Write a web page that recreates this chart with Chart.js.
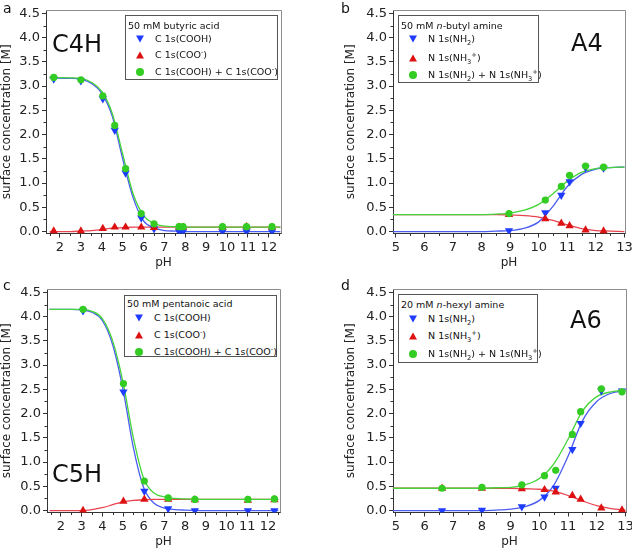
<!DOCTYPE html>
<html>
<head>
<meta charset="utf-8">
<script src="https://cdn.jsdelivr.net/npm/chart.js@4/dist/chart.umd.min.js"></script>
<style>
  body { margin:0; width:632px; height:550px; overflow:hidden; background:#fff; position:relative; font-family:"DejaVu Sans", sans-serif; color:#111; }
  canvas { position:absolute; }
  .lbl { position:absolute; line-height:1; white-space:nowrap; }
  .letter { font-size:14px; }
  .big { font-size:24px; }
  .legend { position:absolute; border:1px solid #555; background:#fff; box-sizing:border-box; font-size:9.5px; }
  .legend .row { position:absolute; white-space:nowrap; line-height:10px; transform:translateY(-50%); }
  .legend sub, .legend sup { font-size:0.7em; line-height:0; }
  .mk { position:absolute; transform:translate(-50%,-50%); }
  .down { width:0; height:0; border-left:4.5px solid transparent; border-right:4.5px solid transparent; border-top:7px solid #1e3cff; }
  .up { width:0; height:0; border-left:4.5px solid transparent; border-right:4.5px solid transparent; border-bottom:7px solid #dd1111; }
  .dot { width:8px; height:8px; border-radius:50%; background:#33cc22; }
</style>
</head>
<body>
<canvas id="pa" width="316" height="271" style="left:0;top:0"></canvas>
<canvas id="pb" width="320" height="271" style="left:316px;top:0"></canvas>
<canvas id="pc" width="316" height="271" style="left:0;top:279px"></canvas>
<canvas id="pd" width="320" height="271" style="left:316px;top:279px"></canvas>

<div class="lbl letter" style="left:3px;top:1px">a</div>
<div class="lbl letter" style="left:341px;top:1px">b</div>
<div class="lbl letter" style="left:3px;top:278px">c</div>
<div class="lbl letter" style="left:341px;top:278px">d</div>
<div class="lbl big" style="left:52px;top:32px">C4H</div>
<div class="lbl big" style="left:571px;top:31px">A4</div>
<div class="lbl big" style="left:52px;top:462px">C5H</div>
<div class="lbl big" style="left:570px;top:308px">A6</div>

<script>
// ---- data ----
// a: 50 mM butyric acid
const phA = [1.7, 3.0, 4.05, 4.62, 5.14, 5.89, 6.5, 7.7, 7.89, 9.78, 10.93, 12.15];
const coohA = [3.15, 3.11, 2.74, 2.09, 1.21, 0.28, 0.06, 0.0, 0.0, 0.0, 0.0, 0.0];
const cooA = [0.01, 0.01, 0.06, 0.09, 0.09, 0.09, 0.08, 0.09, 0.09, 0.09, 0.10, 0.09];
const sumA = [3.18, 3.13, 2.80, 2.19, 1.30, 0.37, 0.16, 0.10, 0.10, 0.10, 0.10, 0.10];
const fitPhA = [1.5, 2.5, 3.0, 3.5, 4.0, 4.5, 5.0, 5.5, 6.0, 6.5, 7.0, 7.5, 8.0, 9.0, 12.55];
const fitCoohA = [3.17, 3.16, 3.14, 3.06, 2.85, 2.38, 1.50, 0.70, 0.22, 0.08, 0.02, 0.01, 0.0, 0.0, 0.0];
const fitCooA = [0.0, 0.0, 0.01, 0.02, 0.04, 0.07, 0.08, 0.09, 0.09, 0.09, 0.09, 0.09, 0.09, 0.09, 0.09];
const fitSumA = [3.18, 3.17, 3.16, 3.08, 2.89, 2.44, 1.60, 0.78, 0.33, 0.17, 0.11, 0.10, 0.09, 0.09, 0.09];

// b: 50 mM n-butyl amine
const phB = [8.96, 10.23, 10.79, 11.08, 11.64, 12.27];
const nh2B = [0.02, 0.39, 0.75, 1.03, 1.32, 1.31];
const nh3B = [0.35, 0.26, 0.17, 0.12, 0.03, 0.01];
const sumB = [0.37, 0.65, 0.93, 1.16, 1.35, 1.33];
const fitPhB = [4.9, 7.0, 8.0, 8.5, 9.0, 9.5, 10.0, 10.5, 11.0, 11.5, 12.0, 12.5, 13.0];
const fitNh2B = [0.0, 0.0, 0.0, 0.01, 0.02, 0.07, 0.20, 0.52, 0.93, 1.18, 1.29, 1.32, 1.33];
const fitNh3B = [0.35, 0.35, 0.35, 0.35, 0.34, 0.33, 0.30, 0.23, 0.14, 0.06, 0.02, 0.01, 0.0];
const fitSumB = [0.35, 0.35, 0.35, 0.36, 0.38, 0.44, 0.56, 0.78, 1.04, 1.22, 1.30, 1.32, 1.33];

// c: 50 mM pentanoic acid
const phC = [3.07, 5.02, 6.03, 7.18, 8.47, 11.03, 12.31];
const coohC = [4.12, 2.45, 0.40, 0.04, 0.0, 0.0, 0.0];
const cooC = [0.0, 0.19, 0.23, 0.23, 0.22, 0.21, 0.22];
const sumC = [4.15, 2.62, 0.61, 0.26, 0.23, 0.23, 0.24];
const fitPhC = [1.45, 2.5, 3.0, 3.5, 4.0, 4.5, 5.0, 5.5, 6.0, 6.5, 7.0, 7.5, 8.0, 9.0, 12.5];
const fitCoohC = [4.15, 4.15, 4.14, 4.09, 3.92, 3.42, 2.50, 1.30, 0.47, 0.15, 0.05, 0.02, 0.01, 0.0, 0.0];
const fitCooC = [0.0, 0.0, 0.0, 0.02, 0.06, 0.12, 0.18, 0.21, 0.22, 0.23, 0.23, 0.23, 0.23, 0.23, 0.23];
const fitSumC = [4.15, 4.15, 4.15, 4.11, 3.96, 3.50, 2.65, 1.50, 0.66, 0.36, 0.28, 0.25, 0.24, 0.23, 0.23];

// d: 20 mM n-hexyl amine
const phD = [6.61, 8.0, 9.39, 10.18, 10.57, 11.15, 11.44, 12.16, 12.88];
const nh2D = [0.0, 0.01, 0.08, 0.28, 0.46, 1.26, 1.80, 2.47, 2.47];
const nh3D = [0.46, 0.46, 0.45, 0.43, 0.38, 0.31, 0.23, 0.05, 0.01];
const sumD = [0.46, 0.48, 0.53, 0.72, 0.83, 1.57, 2.04, 2.51, 2.45];
const fitPhD = [4.9, 7.0, 8.0, 8.5, 9.0, 9.5, 10.0, 10.5, 11.0, 11.5, 12.0, 12.5, 13.0];
const fitNh2D = [0.0, 0.0, 0.0, 0.01, 0.03, 0.08, 0.21, 0.52, 1.12, 1.85, 2.25, 2.42, 2.47];
const fitNh3D = [0.46, 0.46, 0.46, 0.46, 0.46, 0.45, 0.44, 0.40, 0.31, 0.20, 0.10, 0.04, 0.01];
const fitSumD = [0.46, 0.46, 0.46, 0.47, 0.48, 0.53, 0.66, 0.96, 1.47, 2.05, 2.35, 2.45, 2.48];

// axis ticks
const yTicks = [0, 0.5, 1, 1.5, 2, 2.5, 3, 3.5, 4, 4.5];
const yMinor = [0.25, 0.75, 1.25, 1.75, 2.25, 2.75, 3.25, 3.75, 4.25];
const xTicksAcid = [2, 3, 4, 5, 6, 7, 8, 9, 10, 11, 12];
const xMinorAcid = [1.5, 2.5, 3.5, 4.5, 5.5, 6.5, 7.5, 8.5, 9.5, 10.5, 11.5, 12.5];
const xTicksAmine = [5, 6, 7, 8, 9, 10, 11, 12, 13];
const xMinorAmine = [5.5, 6.5, 7.5, 8.5, 9.5, 10.5, 11.5, 12.5];

const legendAcid = ['C 1s(COOH)', 'C 1s(COO<sup>-</sup>)', 'C 1s(COOH) + C 1s(COO<sup>-</sup>)'];
const legendAmine = ['N 1s(NH<sub>2</sub>)', 'N 1s(NH<sub>3</sub><sup>+</sup>)', 'N 1s(NH<sub>2</sub>) + N 1s(NH<sub>3</sub><sup>+</sup>)'];

const blue = '#1e3cff', red = '#dd1111', green = '#33cc22';
const blueLine = '#4a5cf2', redLine = '#e84450', greenLine = '#45d43a';
const axisCol = '#333', fontFam = '"DejaVu Sans", sans-serif';

const xy = (xs, ys) => xs.map((x, i) => ({x: x, y: ys[i]}));

const framePlugin = {
  id: 'frame',
  afterDraw(chart, args, opts) {
    const {ctx, chartArea: a, scales: {x, y}} = chart;
    ctx.save();
    ctx.strokeStyle = '#8c8c8c';
    ctx.lineWidth = 1;
    ctx.beginPath();
    ctx.moveTo(a.left, Math.round(a.top) + 0.5);
    ctx.lineTo(Math.round(a.right) + 0.5, Math.round(a.top) + 0.5);
    ctx.lineTo(Math.round(a.right) + 0.5, a.bottom);
    ctx.stroke();
    // minor ticks, shorter than the major ones
    ctx.strokeStyle = axisCol;
    ctx.beginPath();
    opts.xMinor.forEach(v => {
      const px = Math.round(x.getPixelForValue(v)) + 0.5;
      ctx.moveTo(px, a.bottom);
      ctx.lineTo(px, a.bottom + 2.5);
    });
    opts.yMinor.forEach(v => {
      const py = Math.round(y.getPixelForValue(v)) + 0.5;
      ctx.moveTo(a.left, py);
      ctx.lineTo(a.left - 2.5, py);
    });
    ctx.stroke();
    ctx.restore();
  }
};

function panel(id, o) {
  const pts = (data, color, style, r, rot) => ({
    data: data, showLine: false, pointStyle: style, pointRadius: r, pointRotation: rot,
    backgroundColor: color, borderColor: color, borderWidth: 0
  });
  const fit = (data, color) => ({
    data: data, showLine: true, pointRadius: 0, borderColor: color, borderWidth: 1.3,
    cubicInterpolationMode: 'monotone', fill: false
  });
  new Chart(document.getElementById(id), {
    type: 'scatter',
    data: {
      datasets: [
        pts(xy(o.ph, o.sum), green, 'circle', 3.6, 0),
        pts(xy(o.ph, o.ion), red, 'triangle', 4.8, 0),
        pts(xy(o.ph, o.neu), blue, 'triangle', 4.8, 180),
        fit(xy(o.fitPh, o.fitSum), greenLine),
        fit(xy(o.fitPh, o.fitIon), redLine),
        fit(xy(o.fitPh, o.fitNeu), blueLine)
      ]
    },
    options: {
      responsive: false,
      animation: false,
      layout: {padding: {left: 0, top: 10, right: o.padRight, bottom: 0}},
      plugins: {
        legend: {display: false},
        tooltip: {enabled: false},
        frame: {xMinor: o.xMinor, yMinor: yMinor}
      },
      scales: {
        x: {
          type: 'linear', min: o.xMin, max: o.xMax,
          afterBuildTicks: s => { s.ticks = o.xTicks.map(v => ({value: v})); },
          afterFit: s => { s.height = 37.5; },
          grid: {drawOnChartArea: false, tickLength: 4, color: axisCol},
          border: {color: axisCol},
          ticks: {color: '#222', font: {family: fontFam, size: 13}, padding: 2, maxRotation: 0, autoSkip: false},
          title: {display: true, text: 'pH', color: '#222', font: {family: fontFam, size: 12}, padding: {top: 0, bottom: 1}}
        },
        y: {
          type: 'linear', min: -0.04, max: 4.57,
          afterBuildTicks: s => { s.ticks = yTicks.map(v => ({value: v})); },
          afterFit: s => { s.width = o.yWidth; },
          grid: {drawOnChartArea: false, tickLength: 4, color: axisCol},
          border: {color: axisCol},
          ticks: {color: '#222', font: {family: fontFam, size: 13}, padding: 2, callback: v => v.toFixed(1)},
          title: {display: true, text: 'surface concentration [M]', color: '#222', font: {family: fontFam, size: 12}, padding: {top: o.yTitlePad, bottom: 0}}
        }
      }
    },
    plugins: [framePlugin]
  });
}

function legend(g, title, labels) {
  const box = document.createElement('div');
  box.className = 'legend';
  box.style.cssText = `left:${g.left}px;top:${g.top}px;width:${g.w}px;height:${g.h}px`;
  let html = `<div class="row" style="left:2px;top:${g.titleY}px">${title}</div>`;
  const marks = ['down', 'up', 'dot'];
  labels.forEach((t, i) => {
    html += `<div class="mk ${marks[i]}" style="left:${g.markX}px;top:${g.rows[i]}px"></div>`;
    html += `<div class="row" style="left:${g.textX}px;top:${g.rows[i]}px">${t}</div>`;
  });
  box.innerHTML = html;
  document.body.appendChild(box);
}

panel('pa', {ph: phA, neu: coohA, ion: cooA, sum: sumA, fitPh: fitPhA, fitNeu: fitCoohA, fitIon: fitCooA, fitSum: fitSumA,
  xMin: 1.33, xMax: 12.58, xTicks: xTicksAcid, xMinor: xMinorAcid, yWidth: 46, yTitlePad: 0, padRight: 35});
panel('pb', {ph: phB, neu: nh2B, ion: nh3B, sum: sumB, fitPh: fitPhB, fitNeu: fitNh2B, fitIon: fitNh3B, fitSum: fitSumB,
  xMin: 4.9, xMax: 13.02, xTicks: xTicksAmine, xMinor: xMinorAmine, yWidth: 77, yTitlePad: 28, padRight: 11});
panel('pc', {ph: phC, neu: coohC, ion: cooC, sum: sumC, fitPh: fitPhC, fitNeu: fitCoohC, fitIon: fitCooC, fitSum: fitSumC,
  xMin: 1.33, xMax: 12.58, xTicks: xTicksAcid, xMinor: xMinorAcid, yWidth: 47, yTitlePad: 0, padRight: 36});
panel('pd', {ph: phD, neu: nh2D, ion: nh3D, sum: sumD, fitPh: fitPhD, fitNeu: fitNh2D, fitIon: fitNh3D, fitSum: fitSumD,
  xMin: 4.9, xMax: 13.02, xTicks: xTicksAmine, xMinor: xMinorAmine, yWidth: 77, yTitlePad: 28, padRight: 10});

legend({left: 125, top: 15, w: 153, h: 65, titleY: 9.5, rows: [23, 39, 56], markX: 14, textX: 29}, '50 mM butyric acid', legendAcid);
legend({left: 398, top: 15, w: 141, h: 68, titleY: 9.5, rows: [23, 41.5, 59], markX: 14, textX: 29}, '50 mM <i>n</i>-butyl amine', legendAmine);
legend({left: 124, top: 295, w: 153, h: 62, titleY: 8, rows: [21.5, 39, 55.5], markX: 14, textX: 29}, '50 mM pentanoic acid', legendAcid);
legend({left: 398, top: 294, w: 140, h: 69, titleY: 9.5, rows: [23.5, 41, 59], markX: 14, textX: 29}, '20 mM <i>n</i>-hexyl amine', legendAmine);
</script>
</body>
</html>
